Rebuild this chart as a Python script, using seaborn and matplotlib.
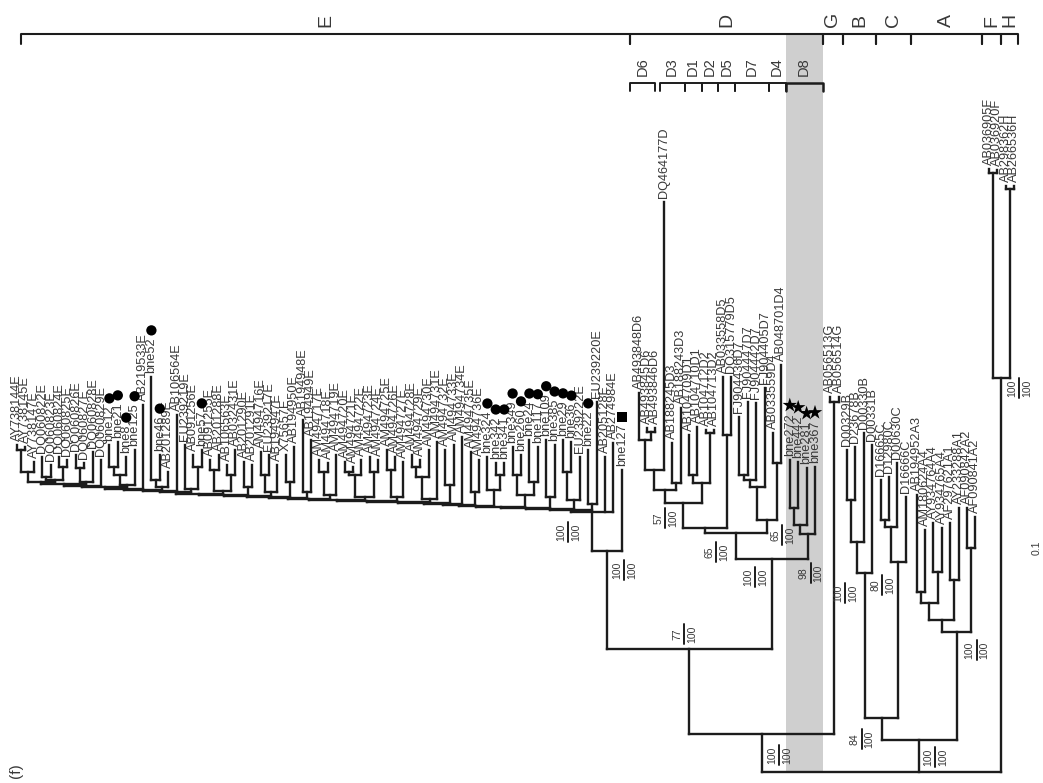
import numpy as np
import pandas as pd
import matplotlib
matplotlib.use("Agg")
import matplotlib.pyplot as plt
import seaborn as sns
from matplotlib.collections import LineCollection

# Tree, written as newick strings. The number after ':'
# is the depth of that node above the root (1 unit = 5 px of the original).
E_GROUPS = [
    "((AY738144E:65.4,AY738145E:65):64.4,AY738147E:62):60",
    "((DQ060822E:63,DQ060823E:61.4):59,(DQ060824E:63,DQ060825E:62.4):61):58.4",
    "((DQ060826E:63.4,DQ060827E:61.8):60.8,DQ060828E:64):58",
    "DQ060829E:62.4",
    "(((bne12:65.4,bne21:66):61,bne8:63):59.4,bne125:64.4):57.4",
    "AB219533E:73.4",
    "((bne52:79,bne46:63.4):58.4,AB201289E:60):57",
    "AB106564E:71.4",
    "(EU239219E:65.4,(AB091256E:63.4,bne57:64.4):61):56.6",
    "((AB091255E:62.4,AB201288E:63.4):60.4,(AB106563E:61.4,AB032431E:64.4):59.4):56.2",
    "(AB201290E:62,AB201291E:61.4):57",
    "((AM494716E:64,EU239217E:63.4):59.4,AB194947E:61.4):56",
    "(X75657E:63.4,AB194950E:65):58",
    "(AB194948E:70.4,AB194949E:66.4):56",
    "((AM494717E:62.4,AM494718E:61.8):60,AM494719E:63.4):55.4",
    "(((AM494720E:62,AM494721E:61):60,AM494722E:62.4):59.4,(AM494723E:63,AM494724E:62.4):60):55",
    "((AM494725E:64.4,AM494726E:63):60.4,AM494727E:62):55",
    "(((AM494728E:63.4,AM494729E:62.4):61,AM494730E:64.4):59,AM494731E:66):54.6",
    "(AM494732E:64.4,AM494733E:65.4):57.4",
    "AM494734E:67",
    "(AM494735E:64,AM494736E:62.4):56",
    "(bne324:63,(bne342:61.8,bne341:61.8):59.4):56.4",
    "((bne349:65,bne260:63.4):59.4,(bne24:66.4,bne117:65):58):55.4",
    "(bne109:66.4,bne385:65.4):55",
    "((bne29:66.4,bne36:66):60,EU239222E:63):54.4",
    "(bne22:64.4,EU239220E:74):53.6",
]
# depth of the successive joins of the comb-like part of genotype E
E_SPINE = [58.0, 57.6, 57.3, 57.0, 56.7, 56.4, 56.2, 56.0, 55.7, 55.4, 55.2, 55.0, 54.8,
           54.6, 54.4, 54.2, 54.0, 53.8, 53.6, 53.4, 53.2, 53.0, 52.8, 52.6, 52.4]
E_CORE_LEAVES = "AB205128E:63,AB274984E:65.8"
E_BASAL_LEAF = "bne127:60.4"

D_CLADE = ("(((((((AB493848D6:75.8,(AB493845D6:68.8,AB493846D6:68.8):68):66.4,DQ464177D:114):60.4,"
           "(AB188245D3:65.8,AB188243D3:72.8):57.8):56.4,"
           "((AB104709D1:67.4,AB104710D1:69):59.4,(AB104712D2:68.4,AB104713D2:68.4):67.8):57.8)D1236:53.8,"
           "(AB033558D5:79,DQ315779D5:79):67.4):48.8,"
           "((((FJ904436D7:71,FJ904447D7:74):59.4,FJ904442D7:73.8):58.4,FJ904405D7:76.8):57,"
           "(AB033559D4:67.8,AB048701D4:81.4):61.8)D74:50.4)Dmain:47.8,"
           "(((bne272:62.4,bne442:62):52.8,bne281:60.8):49.4,bne367:61)D8:47.6)D:42.6")
G_CLADE = "(AB056513G:75,AB056514G:75)G:74"
B_CLADE = "(((D00329B:64.4,D23678B:65):54.4,D00330B:67.8):46,D00331B:65.4)B:39.8"
C_CLADE = "(((D16665C:58.4,D12980C:59):50.4,D00630C:61.8):49,D16666C:55)C:42"
A_CLADE = ("((((AB194952A3:55.4,AM180624A4:48.4):36,(AY934764A4:49.8,AY934765A4:48.8):40):33.8,"
           "(AF297621A1:49.8,AY233288A1:52.8):38.4):30.4,(AF090842A2:52.8,AF090841A2:51):44.8)A:28")
FH_CLADE = "((AB036905F:120.6,AB036920F:120.4):119.8,(AB298362H:117.2,AB266536H:117.2):116.6)FH:78.8"

# backbone depths
DEPTH_ECORE, DEPTH_E, DEPTH_ED, DEPTH_EDG = 52, 44.2, 24.6, 7.6
DEPTH_BC, DEPTH_ABC = 10.8, 6.4

# bootstrap values (upper / lower) per node
BOOT_NODES = ["Ecore", "E", "ED", "D1236", "Dmain", "D74", "D8", "D",
              "EDG", "B", "C", "BC", "ABC", "A", "FH"]
BOOT_TOP = [100, 100, 77, 57, 65, 65, 98, 100, 100, 100, 80, 84, 100, 100, 100]
BOOT_BOTTOM = [100] * 15

# genotype and sub-genotype brackets (first leaf, last leaf)
GENOTYPES = [("E", "AY738144E", "bne127"), ("D", "AB493848D6", "bne367"),
             ("G", "AB056513G", "AB056514G"), ("B", "D00329B", "D00331B"),
             ("C", "D16665C", "D16666C"), ("A", "AB194952A3", "AF090841A2"),
             ("F", "AB036905F", "AB036920F"), ("H", "AB298362H", "AB266536H")]
SUBGENOTYPES = [("D6", "AB493848D6", "AB493846D6"), ("D3", "DQ464177D", "AB188243D3"),
                ("D1", "AB104709D1", "AB104710D1"), ("D2", "AB104712D2", "AB104713D2"),
                ("D5", "AB033558D5", "DQ315779D5"), ("D7", "FJ904436D7", "FJ904405D7"),
                ("D4", "AB033559D4", "AB048701D4"), ("D8", "bne272", "bne367")]

DOT_LEAVES = ["bne12", "bne21", "bne8", "bne125", "bne52", "bne46", "bne57", "bne324",
              "bne342", "bne341", "bne349", "bne260", "bne24", "bne117", "bne109",
              "bne385", "bne29", "bne36", "bne22"]
STAR_LEAVES = ["bne272", "bne442", "bne281", "bne367"]
SQUARE_LEAVES = ["bne127"]

# --- layout helpers ---------------------------------------------------------
GAP_BEFORE = {"AB493848D6": 1.0, "AB056513G": 0.8, "AB194952A3": 0.3, "AB036905F": 0.6}
PX_PER_LEAF, PX_PER_DEPTH = 8.4, 5.0
LEFT_PX, ROOT_PX, W_PX, H_PX = 17, 772, 1043, 783
INK = "#1c1c1c"
TEXT = "#383838"


def parse_newick(s):
    pos = 0

    def node():
        nonlocal pos
        children = []
        if s[pos] == "(":
            pos += 1
            while True:
                children.append(node())
                if s[pos] == ",":
                    pos += 1
                else:
                    break
            pos += 1
        start = pos
        while pos < len(s) and s[pos] not in ":,()":
            pos += 1
        name = s[start:pos]
        depth = 0.0
        if pos < len(s) and s[pos] == ":":
            pos += 1
            start = pos
            while pos < len(s) and s[pos] not in ",()":
                pos += 1
            depth = float(s[start:pos])
        return {"name": name, "depth": depth, "children": children}

    root = node()
    assert pos == len(s), "unbalanced newick"
    return root


def build_tree():
    ladder = E_GROUPS[0]
    for grp, d in zip(E_GROUPS[1:], E_SPINE):
        ladder = f"({ladder},{grp}):{d}"
    e = f"(({ladder},{E_CORE_LEAVES})Ecore:{DEPTH_ECORE},{E_BASAL_LEAF})E:{DEPTH_E}"
    edg = f"(({e},{D_CLADE})ED:{DEPTH_ED},{G_CLADE})EDG:{DEPTH_EDG}"
    abc = f"(({B_CLADE},{C_CLADE})BC:{DEPTH_BC},{A_CLADE})ABC:{DEPTH_ABC}"
    return parse_newick(f"({edg},{abc},{FH_CLADE})root:0")


tree = build_tree()
leaves, nodes = [], {}
cursor = [0.0]


def layout(n):
    if not n["children"]:
        cursor[0] += GAP_BEFORE.get(n["name"], 0.0)
        n["x"] = cursor[0]
        cursor[0] += 1
        leaves.append(n)
    else:
        for c in n["children"]:
            layout(c)
        n["x"] = (n["children"][0]["x"] + n["children"][-1]["x"]) / 2
    if n["name"]:
        nodes[n["name"]] = n


layout(tree)
leaf_x = {l["name"]: l["x"] for l in leaves}
order = [l["name"] for l in leaves]

segments = []


def collect(n):
    if n["children"]:
        segments.append([(n["children"][0]["x"], n["depth"]), (n["children"][-1]["x"], n["depth"])])
        for c in n["children"]:
            segments.append([(c["x"], n["depth"]), (c["x"], c["depth"])])
            collect(c)


collect(tree)

# --- figure ----------------------------------------------------------------
sns.set_theme(style="white")
plt.rcParams["font.family"] = ["Liberation Sans", "DejaVu Sans"]

fig = plt.figure(figsize=(W_PX / 100, H_PX / 100), dpi=100)
ax = fig.add_axes([0, 0, 1, 1])
ax.set_xlim(-LEFT_PX / PX_PER_LEAF, (W_PX - LEFT_PX) / PX_PER_LEAF)
ax.set_ylim((ROOT_PX - H_PX) / PX_PER_DEPTH, ROOT_PX / PX_PER_DEPTH)
ax.axis("off")

to_disp = ax.transData.transform
to_data = ax.transData.inverted().transform


def shift(x, d, dx, dy):
    """move a data point by dx, dy pixels (dy positive = downward)"""
    px, py = to_disp((x, d))
    return to_data((px + dx, py - dy))


BRACKET_D = (ROOT_PX - 34) / PX_PER_DEPTH
SUB_D = (ROOT_PX - 83) / PX_PER_DEPTH


def span(first, last):
    i0, i1 = order.index(first), order.index(last)
    x0 = (leaf_x[order[i0 - 1]] + leaf_x[first]) / 2 if i0 > 0 else leaf_x[first] + 0.5
    x1 = (leaf_x[order[i1 + 1]] + leaf_x[last]) / 2 if i1 < len(order) - 1 else leaf_x[last] + 0.5
    return x0, x1


# shaded D8 band
d8_x0, d8_x1 = span("bne272", "bne367")
ax.fill_betweenx([0, BRACKET_D], d8_x0, d8_x1, color="#cfcfcf", lw=0, zorder=0)

lc = LineCollection(segments, colors=INK, linewidths=1.7, capstyle="projecting", zorder=2)
ax.add_collection(lc)

# leaf labels
label_artists = {}
for l in leaves:
    t = ax.annotate(l["name"], xy=(l["x"], l["depth"]), xytext=(0, 4),
                    textcoords="offset pixels", rotation=90, ha="center", va="bottom",
                    fontsize=9.2, color=TEXT, zorder=3)
    label_artists[l["name"]] = t

# bootstrap labels
BOOT_OFFSET = {"Ecore": (-24, 20), "E": (17, 19), "ED": (-5, -15), "D1236": (-18, 15),
               "Dmain": (-20, 19), "D74": (15, 15), "D8": (3, 39), "D": (-17, 18),
               "EDG": (17, 21), "B": (-20, 20), "C": (-16, 23), "BC": (-20, 21),
               "ABC": (16, 17), "A": (20, 18), "FH": (18, 10)}
for name, top, bottom in zip(BOOT_NODES, BOOT_TOP, BOOT_BOTTOM):
    n = nodes[name]
    dx, dy = BOOT_OFFSET[name]
    ax.annotate(str(top), xy=(n["x"], n["depth"]), xytext=(dx - 2, -dy),
                textcoords="offset pixels", rotation=90, ha="right", va="center",
                fontsize=7.5, color=TEXT)
    ax.annotate(str(bottom), xy=(n["x"], n["depth"]), xytext=(dx + 3, -dy),
                textcoords="offset pixels", rotation=90, ha="left", va="center",
                fontsize=7.5, color=TEXT)
    p0 = shift(n["x"], n["depth"], dx, dy - 10)
    p1 = shift(n["x"], n["depth"], dx, dy + 10)
    ax.plot([p0[0], p1[0]], [p0[1], p1[1]], color=INK, lw=1.4)

# genotype brackets
tick = 10 / PX_PER_DEPTH
for lab, first, last in GENOTYPES:
    x0, x1 = span(first, last)
    ax.plot([x0, x0, x1, x1], [BRACKET_D - tick, BRACKET_D, BRACKET_D, BRACKET_D - tick],
            color=INK, lw=1.5, solid_joinstyle="round")
    ax.text((x0 + x1) / 2, BRACKET_D + 7 / PX_PER_DEPTH, lab, rotation=90,
            ha="center", va="bottom", fontsize=14, color=TEXT)

for lab, first, last in SUBGENOTYPES:
    x0, x1 = span(first, last)
    if lab == "D6":
        x1 -= 0.5
    ax.plot([x0, x0, x1, x1], [SUB_D - tick * 0.8, SUB_D, SUB_D, SUB_D - tick * 0.8],
            color=INK, lw=1.8 if lab == "D8" else 1.4)
    ax.text((x0 + x1) / 2, SUB_D + 7 / PX_PER_DEPTH, lab, rotation=90,
            ha="center", va="bottom", fontsize=10.5, color=TEXT)

# markers placed just above the labels
fig.canvas.draw()
renderer = fig.canvas.get_renderer()


def marker_table(names, gap):
    rows = []
    for nm in names:
        bb = label_artists[nm].get_window_extent(renderer)
        x, y = to_data(((bb.x0 + bb.x1) / 2, bb.y1 + gap))
        rows.append({"x": x, "y": y})
    return pd.DataFrame(rows)


sns.scatterplot(data=marker_table(DOT_LEAVES, 7), x="x", y="y", marker="o", s=55,
                color="black", edgecolor="none", ax=ax, zorder=4)
sns.scatterplot(data=marker_table(STAR_LEAVES, 8), x="x", y="y", marker="*", s=120,
                color="black", edgecolor="none", ax=ax, zorder=4)
sns.scatterplot(data=marker_table(SQUARE_LEAVES, 6), x="x", y="y", marker="s", s=50,
                color="black", edgecolor="none", ax=ax, zorder=4)

# panel letter and scale
ax.text(-0.1, 0.3, "(f)", rotation=90, ha="center", va="center", fontsize=11, color=TEXT)
ax.text(121.4, 44.8, "0.1", rotation=90, ha="center", va="center", fontsize=7.5, color=TEXT)

ax.set_xlim(-LEFT_PX / PX_PER_LEAF, (W_PX - LEFT_PX) / PX_PER_LEAF)
ax.set_ylim((ROOT_PX - H_PX) / PX_PER_DEPTH, ROOT_PX / PX_PER_DEPTH)
fig.savefig("out.png", dpi=100)
